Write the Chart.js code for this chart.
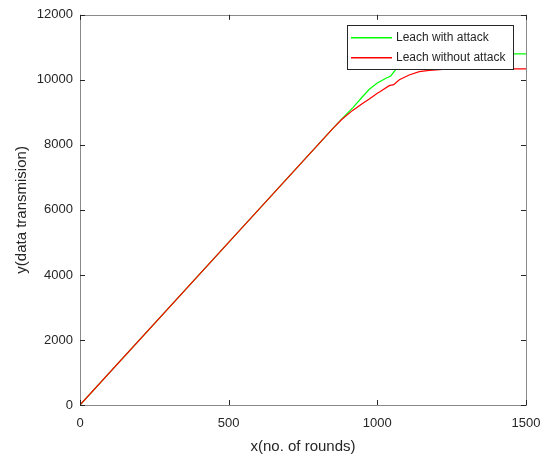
<!DOCTYPE html>
<html>
<head>
<meta charset="utf-8">
<script src="https://cdn.jsdelivr.net/npm/chart.js@4"></script>
<style>
  body { margin: 0; background: #fff; }
  canvas { display: block; }
</style>
</head>
<body>
<canvas id="canvas" width="553" height="457"></canvas>
<script>
// rounds / transmissions
const roundsAttack = [0, 500, 850, 880, 917, 950, 973, 1000, 1029, 1045, 1063, 1085, 1105, 1500];
const dataAttack   = [0, 5000, 8500, 8790, 9140, 9480, 9710, 9900, 10050, 10120, 10330, 10620, 10800, 10800];
const roundsNoAttack = [0, 500, 850, 880, 917, 950, 973, 1000, 1010, 1040, 1055, 1074, 1107, 1141, 1174, 1220, 1300, 1500];
const dataNoAttack   = [0, 5000, 8500, 8780, 9060, 9270, 9410, 9590, 9640, 9820, 9850, 10000, 10150, 10250, 10290, 10320, 10340, 10340];
const xTicks = [0, 500, 1000, 1500];
const yTicks = [0, 2000, 4000, 6000, 8000, 10000, 12000];
const seriesNames = ['Leach with attack', 'Leach without attack'];
const seriesColors = ['#00ff00', '#ff0000'];

const FONT = "'Liberation Sans', Arial, Helvetica, sans-serif";
const AXIS = '#262626';

function toPoints(xs, ys) {
    return xs.map((v, i) => ({x: v, y: ys[i]}));
}

const data = {
    datasets : [
        {
            label: seriesNames[0],
            borderColor: seriesColors[0],
            backgroundColor: seriesColors[0],
            data: toPoints(roundsAttack, dataAttack),
            borderWidth: 1.2,
            pointRadius: 0,
            tension: 0,
            order: 1
        },
        {
            label: seriesNames[1],
            borderColor: seriesColors[1],
            backgroundColor: seriesColors[1],
            data: toPoints(roundsNoAttack, dataNoAttack),
            borderWidth: 1.2,
            pointRadius: 0,
            tension: 0,
            order: 0
        }
    ]
};

// matlab-like box, inward ticks and legend
const boxPlugin = {
    id: 'matlabBox',
    afterDraw(chart) {
        const ctx = chart.ctx;
        const a = chart.chartArea;
        const xs = chart.scales.x, ys = chart.scales.y;
        ctx.save();
        ctx.strokeStyle = '#8a8a8a';
        ctx.lineWidth = 1;
        ctx.strokeRect(Math.round(a.left) + 0.5, Math.round(a.top) + 0.5,
            Math.round(a.right - a.left), Math.round(a.bottom - a.top));
        const t = 5;
        ctx.strokeStyle = AXIS;
        ctx.beginPath();
        xTicks.forEach(v => {
            const px = Math.round(xs.getPixelForValue(v)) + 0.5;
            ctx.moveTo(px, a.bottom); ctx.lineTo(px, a.bottom - t);
            ctx.moveTo(px, a.top); ctx.lineTo(px, a.top + t);
        });
        yTicks.forEach(v => {
            const py = Math.round(ys.getPixelForValue(v)) + 0.5;
            ctx.moveTo(a.left, py); ctx.lineTo(a.left + t, py);
            ctx.moveTo(a.right, py); ctx.lineTo(a.right - t, py);
        });
        ctx.stroke();

        // legend
        const lx = 347, ly = 25, lw = 166, lh = 44;
        ctx.fillStyle = '#fff';
        ctx.fillRect(lx, ly, lw, lh);
        ctx.lineWidth = 1;
        ctx.strokeStyle = '#262626';
        ctx.strokeRect(lx + 0.5, ly + 0.5, lw, lh);
        ctx.font = '12px ' + FONT;
        ctx.textBaseline = 'middle';
        seriesNames.forEach((name, i) => {
            const yy = ly + 12 + i * 20;
            ctx.fillStyle = seriesColors[i];
            ctx.fillRect(lx + 4, yy, 41, 1.5);
            ctx.fillStyle = AXIS;
            ctx.fillText(name, lx + 49, yy + 1);
        });
        ctx.restore();
    }
};

const config = {
    type : 'line',
    data : data,
    options : {
        responsive: false,
        animation: false,
        layout: { padding: { top: 11, right: 27, left: 0, bottom: 0 } },
        plugins: { legend: { display: false }, tooltip: { enabled: false } },
        scales: {
            x: {
                type: 'linear',
                min: 0, max: 1500,
                afterBuildTicks: s => { s.ticks = xTicks.map(v => ({value: v})); },
                afterFit: s => { s.height = 52; },
                grid: { display: false, drawTicks: false },
                border: { display: false },
                ticks: { color: AXIS, font: { family: FONT, size: 13 }, padding: 11, maxRotation: 0,
                         callback: v => String(v) },
                title: { display: true, text: 'x(no. of rounds)', color: AXIS,
                         font: { family: FONT, size: 15 }, padding: { top: 0, bottom: 1 } }
            },
            y: {
                min: 0, max: 12000,
                afterBuildTicks: s => { s.ticks = yTicks.map(v => ({value: v})); },
                afterFit: s => { s.width = 80; },
                grid: { display: false, drawTicks: false },
                border: { display: false },
                ticks: { color: AXIS, font: { family: FONT, size: 13 }, padding: 7,
                         callback: v => String(v) },
                title: { display: true, text: 'y(data transmision)', color: AXIS,
                         font: { family: FONT, size: 15 }, padding: { top: 13, bottom: 0 } }
            }
        }
    },
    plugins: [boxPlugin]
};
const canvas = document.getElementById('canvas');
const chart = new Chart(canvas, config);
</script>
</body>
</html>
